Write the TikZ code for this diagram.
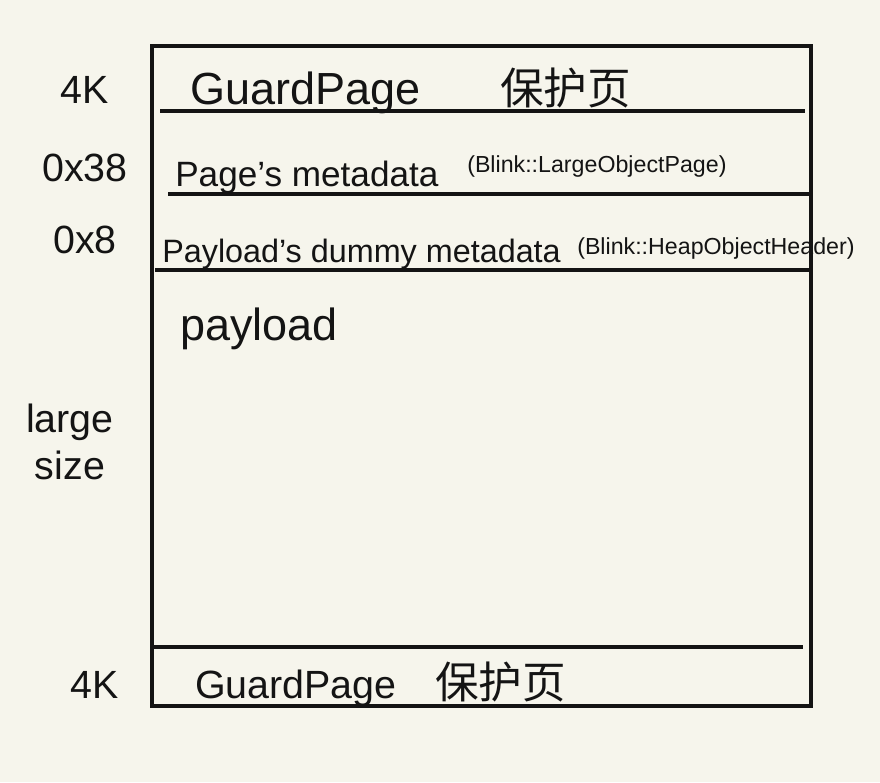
\documentclass[tikz,border=0pt]{standalone}
\usepackage{fontspec}
\setmainfont{Liberation Sans}
\newfontfamily\cjk{Noto Sans CJK SC}
\usetikzlibrary{positioning}
\definecolor{clrBg}{RGB}{246,245,236}
\definecolor{clrInk}{RGB}{20,20,20}

\begin{document}
\begin{tikzpicture}[
  x=0.025cm, y=-0.025cm,
  %% -- text styles --
  hand/.style  = {font=\fontsize{32}{36}\selectfont, text=clrInk, inner sep=0pt},
  low/.style   = {font=\fontsize{28}{32}\selectfont, text=clrInk, inner sep=0pt},
  mid/.style   = {font=\fontsize{23}{28}\selectfont, text=clrInk, inner sep=0pt},
  cls/.style   = {font=\fontsize{16.5}{20}\selectfont, text=clrInk, inner sep=0pt},
  hz/.style    = {font=\cjk\fontsize{31}{36}\selectfont, text=clrInk, inner sep=0pt},
  side/.style  = {font=\fontsize{28}{34}\selectfont, text=clrInk, inner sep=0pt, align=center},
  %% -- line styles --
  ink/.style   = {draw=clrInk, line width=2.3pt},
]

%% background and bounds
\fill[clrBg] (0,0) rectangle (880,782);
\useasboundingbox (0,0) rectangle (880,782);

%% outer frame and row separators
\draw[ink] (152,46) rectangle (811,706);
\coordinate (s1w) at (160,111); \coordinate (s1e) at (805,111);
\coordinate (s2w) at (168,194); \coordinate (s2e) at (811,194);
\coordinate (s3w) at (155,270); \coordinate (s3e) at (811,270);
\coordinate (s4w) at (150,647); \coordinate (s4e) at (803,647);
\draw[ink] (s1w) -- (s1e);
\draw[ink] (s2w) -- (s2e);
\draw[ink] (s3w) -- (s3e);
\draw[ink] (s4w) -- (s4e);

%% row contents
\node[hand, anchor=base west] (gtop)  at (190,104) {GuardPage};
\node[hz,   anchor=base west] (ztop)  at (500,104) {保护页};
\node[mid,  anchor=base west, font=\fontsize{25}{30}\selectfont] (pmeta) at (175,186) {Page's metadata};
\node[cls,  anchor=base west] (pcls)  at (467,172) {(Blink::LargeObjectPage)};
\node[mid,  anchor=base west] (dmeta) at (162,262) {Payload's dummy metadata};
\node[cls,  anchor=base west] (dcls)  at (577,254) {(Blink::HeapObjectHeader)};
\node[hand, anchor=base west] (pay)   at (180,340) {payload};
\node[low,  anchor=base west] (gbot)  at (195,698) {GuardPage};
\node[hz,   anchor=base west] (zbot)  at (435,698) {保护页};

%% size labels (left margin)
\node[side] (k1)   at (85,90)   {4K};
\node[side] (h38)  at (85,168)  {0x38};
\node[side] (h8)   at (85,240)  {0x8};
\node[side] (big)  at (70,442)  {large\\size};
\node[side] (k2)   at (95,685)  {4K};

\end{tikzpicture}
\end{document}
